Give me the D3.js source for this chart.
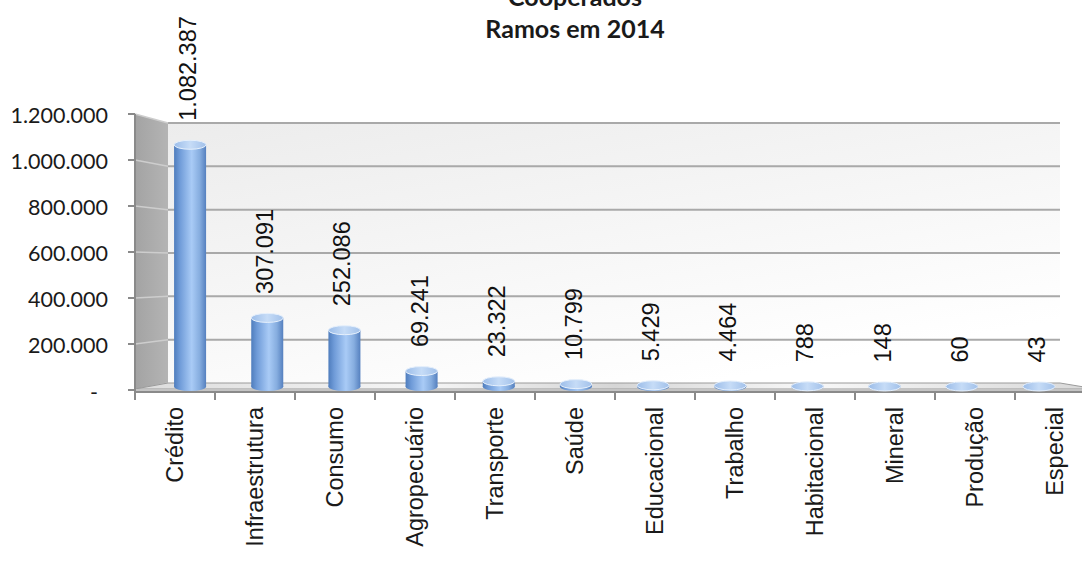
<!DOCTYPE html>
<html>
<head>
<meta charset="utf-8">
<script src="https://cdn.jsdelivr.net/npm/d3@7"></script>
<style>
  html, body { margin: 0; padding: 0; background: #ffffff; }
  svg { display: block; }
</style>
</head>
<body>
<svg id="chart" width="1082" height="561"></svg>
<script>
// Cooperados por ramo, 2014
const categories = ["Crédito", "Infraestrutura", "Consumo", "Agropecuário", "Transporte", "Saúde",
  "Educacional", "Trabalho", "Habitacional", "Mineral", "Produção", "Especial"];
const cooperados = [1082387, 307091, 252086, 69241, 23322, 10799, 5429, 4464, 788, 148, 60, 43];
const yTicks = [0, 200000, 400000, 600000, 800000, 1000000, 1200000];
const titleLines = ["Cooperados", "Ramos em 2014"];

const svg = d3.select("#chart");
const W = 1082, H = 561;

const ptBR = d3.formatLocale({ decimal: ",", thousands: ".", grouping: [3], currency: ["R$", ""] });
const fmt = ptBR.format(",d");

// 3D box: front plane, back plane and the mid plane where the columns stand
const front = { x0: 135, x1: 1095, y0: 390, y1: 114 };
const back  = { x0: 168, x1: 1060, y0: 383, y1: 123 };
const mid   = { x0: (front.x0 + back.x0) / 2, x1: (front.x1 + back.x1) / 2,
                y0: (front.y0 + back.y0) / 2, y1: (front.y1 + back.y1) / 2 };

const yMax = 1200000;
const xFront = d3.scaleBand().domain(categories).range([front.x0, front.x1]);
const xMid   = d3.scaleBand().domain(categories).range([mid.x0, mid.x1]);
const yFront = d3.scaleLinear().domain([0, yMax]).range([front.y0, front.y1]);
const yBack  = d3.scaleLinear().domain([0, yMax]).range([back.y0, back.y1]);
const yMid   = d3.scaleLinear().domain([0, yMax]).range([mid.y0, mid.y1]);

const defs = svg.append("defs");
const wallGrad = defs.append("linearGradient").attr("id", "wall")
  .attr("x1", "0").attr("y1", "0").attr("x2", "0.6").attr("y2", "1");
wallGrad.append("stop").attr("offset", "0").attr("stop-color", "#ececec");
wallGrad.append("stop").attr("offset", "1").attr("stop-color", "#ffffff");

const sideGrad = defs.append("linearGradient").attr("id", "side")
  .attr("x1", "0").attr("y1", "0").attr("x2", "1").attr("y2", "0");
sideGrad.append("stop").attr("offset", "0").attr("stop-color", "#a3a3a3");
sideGrad.append("stop").attr("offset", "1").attr("stop-color", "#b4b4b4");

const floorGrad = defs.append("linearGradient").attr("id", "floor")
  .attr("x1", "0").attr("y1", "0").attr("x2", "1").attr("y2", "0");
[["0", "#dcdcdc"], ["0.3", "#f6f6f6"], ["0.5", "#d6d6d6"], ["0.7", "#f8f8f8"], ["1", "#d8d8d8"]]
  .forEach(([o, c]) => floorGrad.append("stop").attr("offset", o).attr("stop-color", c));

const barGrad = defs.append("linearGradient").attr("id", "bar")
  .attr("x1", "0").attr("y1", "0").attr("x2", "1").attr("y2", "0");
[["0", "#4f7dbd"], ["0.18", "#6f9bd8"], ["0.55", "#a9cbf6"], ["0.8", "#86addf"], ["1", "#5580bf"]]
  .forEach(([o, c]) => barGrad.append("stop").attr("offset", o).attr("stop-color", c));

const topGrad = defs.append("linearGradient").attr("id", "bartop")
  .attr("x1", "0").attr("y1", "0").attr("x2", "1").attr("y2", "0");
[["0", "#9cbde9"], ["0.5", "#c6dcf7"], ["1", "#a2c1ea"]]
  .forEach(([o, c]) => topGrad.append("stop").attr("offset", o).attr("stop-color", c));

// back wall
svg.append("rect")
  .attr("x", back.x0).attr("y", back.y1)
  .attr("width", back.x1 - back.x0).attr("height", back.y0 - back.y1)
  .attr("fill", "url(#wall)");

// side wall
svg.append("polygon")
  .attr("points", [[front.x0, front.y1], [back.x0, back.y1], [back.x0, back.y0], [front.x0, front.y0]].join(" "))
  .attr("fill", "url(#side)");

// gridlines on the back wall and the side wall
const grid = svg.append("g");
yTicks.forEach(v => {
  if (v > 0) {
    grid.append("line")
      .attr("x1", back.x0).attr("x2", back.x1)
      .attr("y1", yBack(v)).attr("y2", yBack(v))
      .attr("stroke", "#a9a9a9").attr("stroke-width", 2);
  }
  grid.append("line")
    .attr("x1", front.x0).attr("x2", back.x0)
    .attr("y1", yFront(v)).attr("y2", yBack(v))
    .attr("stroke", "#cdcdcd").attr("stroke-width", 1.5);
});

// floor
const floorRight = 1082 + 14;
svg.append("polygon")
  .attr("points", [[back.x0, back.y0], [back.x1, back.y0], [floorRight, front.y0 - 1], [front.x0, front.y0 - 1]].join(" "))
  .attr("fill", "url(#floor)").attr("stroke", "#9a9a9a").attr("stroke-width", 1);
svg.append("rect")
  .attr("x", front.x0).attr("y", front.y0 - 1)
  .attr("width", floorRight - front.x0).attr("height", 3)
  .attr("fill", "#c4c4c4");

// axis lines and ticks
const axisColor = "#8a8a8a";
svg.append("line").attr("x1", front.x0).attr("x2", front.x0)
  .attr("y1", front.y1).attr("y2", front.y0 + 2)
  .attr("stroke", axisColor).attr("stroke-width", 2);
svg.append("line").attr("x1", front.x0).attr("x2", W)
  .attr("y1", front.y0 + 2).attr("y2", front.y0 + 2)
  .attr("stroke", axisColor).attr("stroke-width", 2);

const yAxis = svg.append("g");
yTicks.forEach(v => {
  yAxis.append("line")
    .attr("x1", front.x0 - 7).attr("x2", front.x0)
    .attr("y1", yFront(v)).attr("y2", yFront(v))
    .attr("stroke", axisColor).attr("stroke-width", 2);
  yAxis.append("text")
    .attr("x", v === 0 ? 98 : 108)
    .attr("y", yFront(v) + (v === 0 ? 2 : 1))
    .attr("text-anchor", "end")
    .attr("dominant-baseline", "central")
    .attr("font-family", "Lato, 'Open Sans', sans-serif")
    .attr("font-size", 21.5)
    .attr("fill", "#1a1a1a")
    .text(v === 0 ? "-" : fmt(v));
});

const xTickPositions = categories.map(c => xFront(c)).concat([front.x1]);
xTickPositions.forEach(x => {
  svg.append("line")
    .attr("x1", x).attr("x2", x)
    .attr("y1", front.y0 + 2).attr("y2", front.y0 + 10)
    .attr("stroke", axisColor).attr("stroke-width", 2);
});

// cylinders
const barW = 32, ry = 4.5;
const bars = svg.append("g").selectAll("g").data(categories.map((c, i) => ({ c, v: cooperados[i] })))
  .join("g");
bars.each(function(d) {
  const g = d3.select(this);
  const cx = xMid(d.c) + xMid.bandwidth() / 2;
  const yb = yMid(0), yt = yMid(d.v);
  g.append("ellipse").attr("cx", cx).attr("cy", yb).attr("rx", barW / 2).attr("ry", ry)
    .attr("fill", "url(#bar)");
  g.append("rect").attr("x", cx - barW / 2).attr("y", yt).attr("width", barW)
    .attr("height", Math.max(0, yb - yt)).attr("fill", "url(#bar)");
  g.append("ellipse").attr("cx", cx).attr("cy", yt).attr("rx", barW / 2).attr("ry", ry)
    .attr("fill", "url(#bartop)").attr("stroke", "#e6f0fc").attr("stroke-width", 1);
});

// value labels
svg.append("g").selectAll("text").data(categories.map((c, i) => ({ c, v: cooperados[i] })))
  .join("text")
  .attr("transform", d => {
    const cx = xMid(d.c) + xMid.bandwidth() / 2 - 2;
    return `translate(${cx},${yMid(d.v) - 24}) rotate(-90)`;
  })
  .attr("text-anchor", "start")
  .attr("dominant-baseline", "central")
  .attr("font-family", "'Liberation Sans', Arial, sans-serif")
  .attr("font-size", 23.5)
  .attr("fill", "#111111")
  .text(d => fmt(d.v));

// category labels
svg.append("g").selectAll("text").data(categories)
  .join("text")
  .attr("transform", c => `translate(${xFront(c) + xFront.bandwidth() / 2},${front.y0 + 17}) rotate(-90)`)
  .attr("text-anchor", "end")
  .attr("dominant-baseline", "central")
  .attr("font-family", "'Liberation Sans', Arial, sans-serif")
  .attr("font-size", 23.5)
  .attr("fill", "#1a1a1a")
  .text(c => c);

// title
svg.append("g").selectAll("text").data(titleLines)
  .join("text")
  .attr("x", 575)
  .attr("y", (d, i) => 6 + i * 32)
  .attr("text-anchor", "middle")
  .attr("font-family", "Lato, 'Open Sans', sans-serif")
  .attr("font-weight", "bold")
  .attr("font-size", 25)
  .attr("fill", "#1a1a1a")
  .text(d => d);
</script>
</body>
</html>
